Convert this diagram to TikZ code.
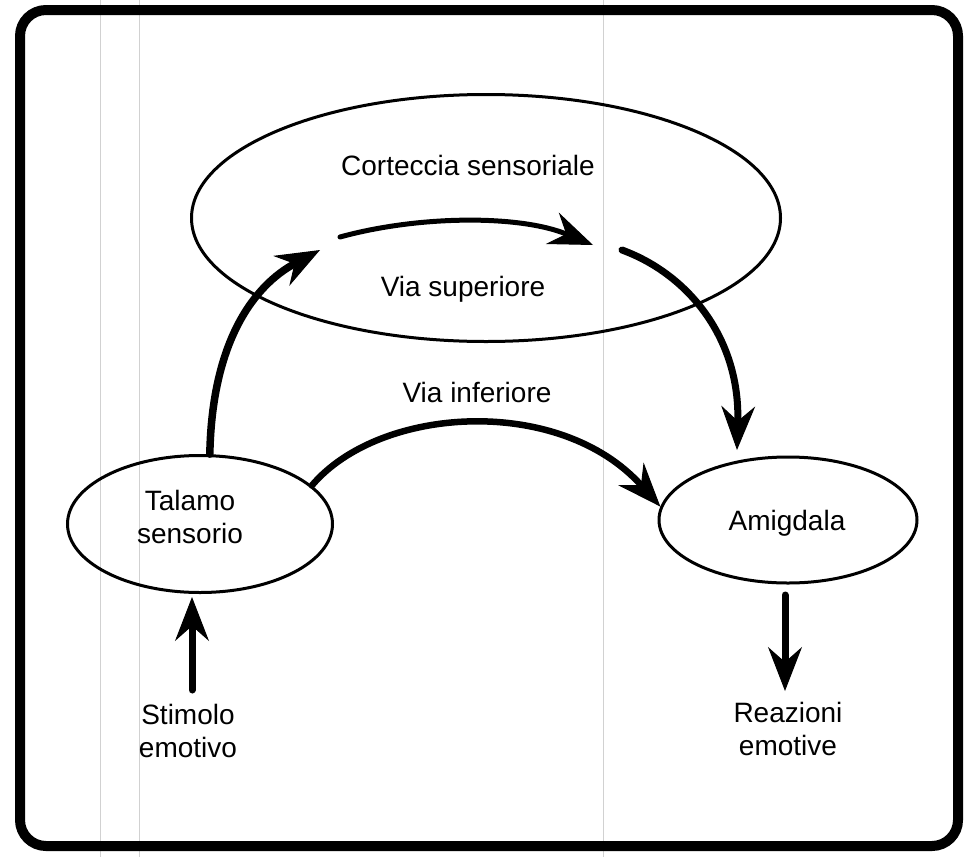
\documentclass[tikz,border=0pt]{standalone}
\usepackage{fontspec}
\setmainfont{Liberation Sans}
\usetikzlibrary{shapes.geometric,arrows.meta}
\begin{document}
\begin{tikzpicture}[x=1pt,y=-1pt,
  lbl/.style={font=\fontsize{28}{33}\selectfont, inner sep=0pt, align=center},
  oval/.style={ellipse, draw, line width=3pt, inner sep=0pt},
  arr/.style={-{Stealth[length=44pt,width=34pt,inset=15pt,line width=1pt]}, line width=7pt, line cap=round},
  scanline/.style={draw=black!18, line width=1pt}]
\useasboundingbox (0,0) rectangle (967,857);
% faint scan lines
\draw[scanline] (100,0) -- (100,857);
\draw[scanline] (139,0) -- (139,857);
\draw[scanline] (603,0) -- (603,857);
% frame
\draw[line width=10pt, rounded corners=26pt] (20,10) rectangle (958,846);
% ovals
\node[oval, minimum width=589pt, minimum height=247pt] (cortex) at (486,218) {};
\node[oval, minimum width=265pt, minimum height=137pt] (talamo) at (200,524) {};
\node[oval, minimum width=258pt, minimum height=126pt] (amig) at (788,520) {};
% labels (base = baseline of last line)
\node[lbl, anchor=base] (cortlbl) at (468,175) {Corteccia sensoriale};
\node[lbl, anchor=base] (suplbl) at (463,296) {Via superiore};
\node[lbl, anchor=base] (inflbl) at (477,402) {Via inferiore};
\node[lbl, anchor=base] (talamolbl) at (190,543) {Talamo\\sensorio};
\node[lbl, anchor=base] (amiglbl) at (787,530) {Amigdala};
\node[lbl, anchor=base] (stimlbl) at (188,757) {Stimolo\\emotivo};
\node[lbl, anchor=base] (reazlbl) at (788,755) {Reazioni\\emotive};
% free ends
\coordinate (upEnd) at (320,250);
\coordinate (supStart) at (340,237);
\coordinate (supEnd) at (593,245);
\coordinate (downStart) at (622,250);
\coordinate (downEnd) at (737,450);
\coordinate (stimStart) at (192,690);
\coordinate (stimEnd) at (192,597);
\coordinate (reazStart) at (785,595);
\coordinate (reazEnd) at (785,691);
% connectors
\draw[arr, line width=7.5pt] (talamo.82) .. controls (212,340) and (255,285) .. (upEnd);
\draw[arr, line width=5pt] (supStart) .. controls (420,215) and (520,215) .. (supEnd);
\draw[arr] (downStart) .. controls (690,275) and (740,340) .. (downEnd);
\draw[arr, line width=6.5pt] (talamo.19.5) .. controls (380,405) and (560,395) .. (amig.174);
\draw[arr] (stimStart) -- (stimEnd);
\draw[arr] (reazStart) -- (reazEnd);
\end{tikzpicture}
\end{document}
